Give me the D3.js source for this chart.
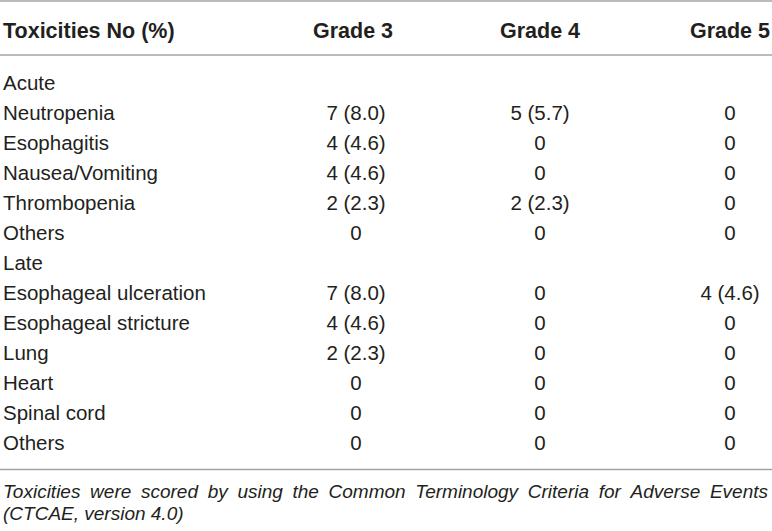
<!DOCTYPE html>
<html><head><meta charset="utf-8">
<script src="https://cdn.jsdelivr.net/npm/d3@7"></script>
<style>
html,body{margin:0;padding:0;background:#fff;}
svg{display:block;font-family:"Liberation Sans",Arial,sans-serif;}
</style></head>
<body><svg id="c" width="772" height="531"></svg>
<script>
const headers = ["Toxicities No (%)", "Grade 3", "Grade 4", "Grade 5"];
const rowLabels = ["Acute","Neutropenia","Esophagitis","Nausea/Vomiting","Thrombopenia","Others","Late","Esophageal ulceration","Esophageal stricture","Lung","Heart","Spinal cord","Others"];
const grade3 = ["","7 (8.0)","4 (4.6)","4 (4.6)","2 (2.3)","0","","7 (8.0)","4 (4.6)","2 (2.3)","0","0","0"];
const grade4 = ["","5 (5.7)","0","0","2 (2.3)","0","","0","0","0","0","0","0"];
const grade5 = ["","0","0","0","0","0","","4 (4.6)","0","0","0","0","0"];
const footnote = ["Toxicities were scored by using the Common Terminology Criteria for Adverse Events", "(CTCAE, version 4.0)"];

const svg = d3.select("#c");
const W = 772;
const textColor = "#231f20";
const lineColor = "#a3a3a3";
const fs = 20.5, fsHead = 21.5, fsNote = 19;

const y = d3.scalePoint().domain(d3.range(rowLabels.length)).range([90, 450]);
const colX = d3.scaleOrdinal().domain(["g3","g4","g5"]).range([356, 540, 730]);

// rules
[1, 55, 469.5].forEach(v => svg.append("line").attr("x1",0).attr("x2",W).attr("y1",v).attr("y2",v)
  .attr("stroke",lineColor).attr("stroke-width",1.5));

// headers
const hy = 38;
svg.append("text").attr("x",3).attr("y",hy).attr("font-size",fsHead).attr("font-weight","bold").attr("fill",textColor).text(headers[0]);
svg.append("text").attr("x",353).attr("y",hy).attr("text-anchor","middle").attr("font-size",fsHead).attr("font-weight","bold").attr("fill",textColor).text(headers[1]);
svg.append("text").attr("x",colX("g4")).attr("y",hy).attr("text-anchor","middle").attr("font-size",fsHead).attr("font-weight","bold").attr("fill",textColor).text(headers[2]);
svg.append("text").attr("x",W-2).attr("y",hy).attr("text-anchor","end").attr("font-size",fsHead).attr("font-weight","bold").attr("fill",textColor).text(headers[3]);

const rows = svg.selectAll("g.row").data(rowLabels).join("g").attr("class","row")
  .attr("transform",(d,i)=>`translate(0,${y(i)})`);
rows.append("text").attr("x",3).attr("font-size",fs).attr("fill",textColor).text(d=>d);
const cols = [["g3",grade3],["g4",grade4],["g5",grade5]];
cols.forEach(([k,arr]) => {
  rows.append("text").attr("x",colX(k)).attr("text-anchor","middle").attr("font-size",fs).attr("fill",textColor)
    .text((d,i)=>arr[i]);
});

// footnote (first line justified)
const fnY = [498, 520];
footnote.forEach((line, li) => {
  const t = svg.append("text").attr("y",fnY[li]).attr("font-size",fsNote).attr("font-style","italic").attr("fill",textColor);
  if (li === 0) {
    const words = line.split(" ");
    const spans = words.map(w => t.append("tspan").text(w));
    const widths = spans.map(s => s.node().getComputedTextLength());
    const total = d3.sum(widths);
    const gap = (W - 4 - 3 - total) / (words.length - 1);
    let x = 3;
    spans.forEach((s, i) => { s.attr("x", x); x += widths[i] + gap; });
  } else {
    t.attr("x",3).text(line);
  }
});
</script></body></html>
